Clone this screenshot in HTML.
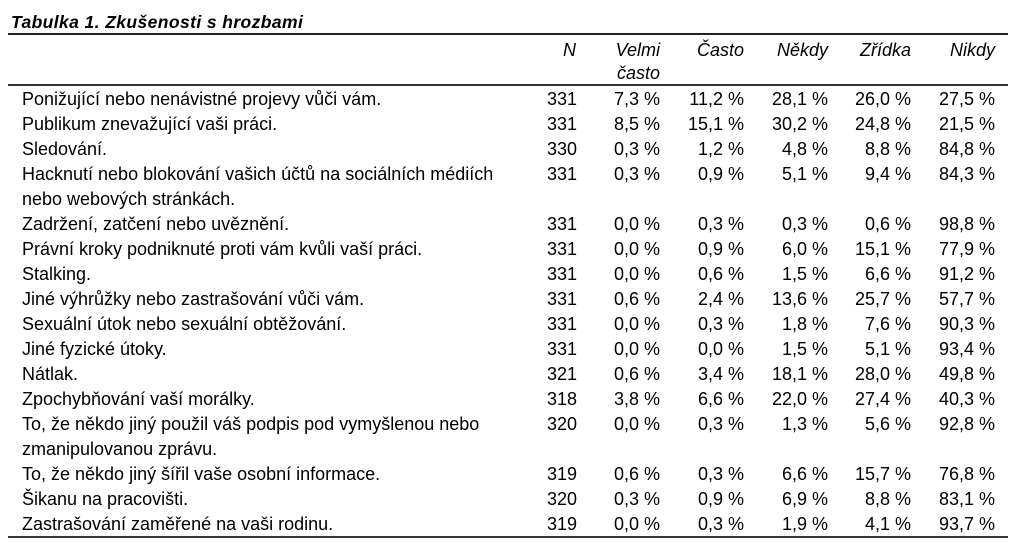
<!DOCTYPE html>
<html>
<head>
<meta charset="utf-8">
<style>
html,body{margin:0;padding:0;background:#fff;}
body{width:1024px;height:559px;position:relative;overflow:hidden;font-family:"Liberation Sans",Arial,sans-serif;color:#000;}
.t{position:absolute;left:11px;top:9.7px;font-size:17.5px;line-height:25px;font-weight:bold;font-style:italic;letter-spacing:0.4px;white-space:nowrap;}
.hl{position:absolute;left:8px;width:1000px;background:#222;}
.r{position:absolute;left:0;width:1024px;height:25px;font-size:18px;line-height:25px;white-space:nowrap;}
.r span{position:absolute;top:0;}
.l{left:22px;}
.c0{right:447px;}
.c1{right:364px;}
.c2{right:280px;}
.c3{right:196px;}
.c4{right:113px;}
.c5{right:29px;}
.h{font-style:italic;}
</style>
</head>
<body>
<div class="t">Tabulka 1. Zkušenosti s hrozbami</div>
<div class="hl" style="top:33px;height:2px;"></div>
<div class="hl" style="top:84px;height:2px;background:#333;"></div>
<div class="hl" style="top:536px;height:2px;background:#333;"></div>

<div class="r h" style="top:38.3px"><span class="c0" style="right:448px">N</span><span class="c1">Velmi</span><span class="c2">Často</span><span class="c3">Někdy</span><span class="c4">Zřídka</span><span class="c5">Nikdy</span></div>
<div class="r h" style="top:61.3px"><span class="c1">často</span></div>

<div class="r" style="top:87.3px"><span class="l">Ponižující nebo nenávistné projevy vůči vám.</span><span class="c0">331</span><span class="c1">7,3 %</span><span class="c2">11,2 %</span><span class="c3">28,1 %</span><span class="c4">26,0 %</span><span class="c5">27,5 %</span></div>
<div class="r" style="top:112.3px"><span class="l">Publikum znevažující vaši práci.</span><span class="c0">331</span><span class="c1">8,5 %</span><span class="c2">15,1 %</span><span class="c3">30,2 %</span><span class="c4">24,8 %</span><span class="c5">21,5 %</span></div>
<div class="r" style="top:137.3px"><span class="l">Sledování.</span><span class="c0">330</span><span class="c1">0,3 %</span><span class="c2">1,2 %</span><span class="c3">4,8 %</span><span class="c4">8,8 %</span><span class="c5">84,8 %</span></div>
<div class="r" style="top:162.3px"><span class="l">Hacknutí nebo blokování vašich účtů na sociálních médiích</span><span class="c0">331</span><span class="c1">0,3 %</span><span class="c2">0,9 %</span><span class="c3">5,1 %</span><span class="c4">9,4 %</span><span class="c5">84,3 %</span></div>
<div class="r" style="top:187.3px"><span class="l">nebo webových stránkách.</span></div>
<div class="r" style="top:212.3px"><span class="l">Zadržení, zatčení nebo uvěznění.</span><span class="c0">331</span><span class="c1">0,0 %</span><span class="c2">0,3 %</span><span class="c3">0,3 %</span><span class="c4">0,6 %</span><span class="c5">98,8 %</span></div>
<div class="r" style="top:237.3px"><span class="l">Právní kroky podniknuté proti vám kvůli vaší práci.</span><span class="c0">331</span><span class="c1">0,0 %</span><span class="c2">0,9 %</span><span class="c3">6,0 %</span><span class="c4">15,1 %</span><span class="c5">77,9 %</span></div>
<div class="r" style="top:262.3px"><span class="l">Stalking.</span><span class="c0">331</span><span class="c1">0,0 %</span><span class="c2">0,6 %</span><span class="c3">1,5 %</span><span class="c4">6,6 %</span><span class="c5">91,2 %</span></div>
<div class="r" style="top:287.3px"><span class="l">Jiné výhrůžky nebo zastrašování vůči vám.</span><span class="c0">331</span><span class="c1">0,6 %</span><span class="c2">2,4 %</span><span class="c3">13,6 %</span><span class="c4">25,7 %</span><span class="c5">57,7 %</span></div>
<div class="r" style="top:312.3px"><span class="l">Sexuální útok nebo sexuální obtěžování.</span><span class="c0">331</span><span class="c1">0,0 %</span><span class="c2">0,3 %</span><span class="c3">1,8 %</span><span class="c4">7,6 %</span><span class="c5">90,3 %</span></div>
<div class="r" style="top:337.3px"><span class="l">Jiné fyzické útoky.</span><span class="c0">331</span><span class="c1">0,0 %</span><span class="c2">0,0 %</span><span class="c3">1,5 %</span><span class="c4">5,1 %</span><span class="c5">93,4 %</span></div>
<div class="r" style="top:362.3px"><span class="l">Nátlak.</span><span class="c0">321</span><span class="c1">0,6 %</span><span class="c2">3,4 %</span><span class="c3">18,1 %</span><span class="c4">28,0 %</span><span class="c5">49,8 %</span></div>
<div class="r" style="top:387.3px"><span class="l">Zpochybňování vaší morálky.</span><span class="c0">318</span><span class="c1">3,8 %</span><span class="c2">6,6 %</span><span class="c3">22,0 %</span><span class="c4">27,4 %</span><span class="c5">40,3 %</span></div>
<div class="r" style="top:412.3px"><span class="l">To, že někdo jiný použil váš podpis pod vymyšlenou nebo</span><span class="c0">320</span><span class="c1">0,0 %</span><span class="c2">0,3 %</span><span class="c3">1,3 %</span><span class="c4">5,6 %</span><span class="c5">92,8 %</span></div>
<div class="r" style="top:437.3px"><span class="l">zmanipulovanou zprávu.</span></div>
<div class="r" style="top:462.3px"><span class="l">To, že někdo jiný šířil vaše osobní informace.</span><span class="c0">319</span><span class="c1">0,6 %</span><span class="c2">0,3 %</span><span class="c3">6,6 %</span><span class="c4">15,7 %</span><span class="c5">76,8 %</span></div>
<div class="r" style="top:487.3px"><span class="l">Šikanu na pracovišti.</span><span class="c0">320</span><span class="c1">0,3 %</span><span class="c2">0,9 %</span><span class="c3">6,9 %</span><span class="c4">8,8 %</span><span class="c5">83,1 %</span></div>
<div class="r" style="top:512.3px"><span class="l">Zastrašování zaměřené na vaši rodinu.</span><span class="c0">319</span><span class="c1">0,0 %</span><span class="c2">0,3 %</span><span class="c3">1,9 %</span><span class="c4">4,1 %</span><span class="c5">93,7 %</span></div>
</body>
</html>
